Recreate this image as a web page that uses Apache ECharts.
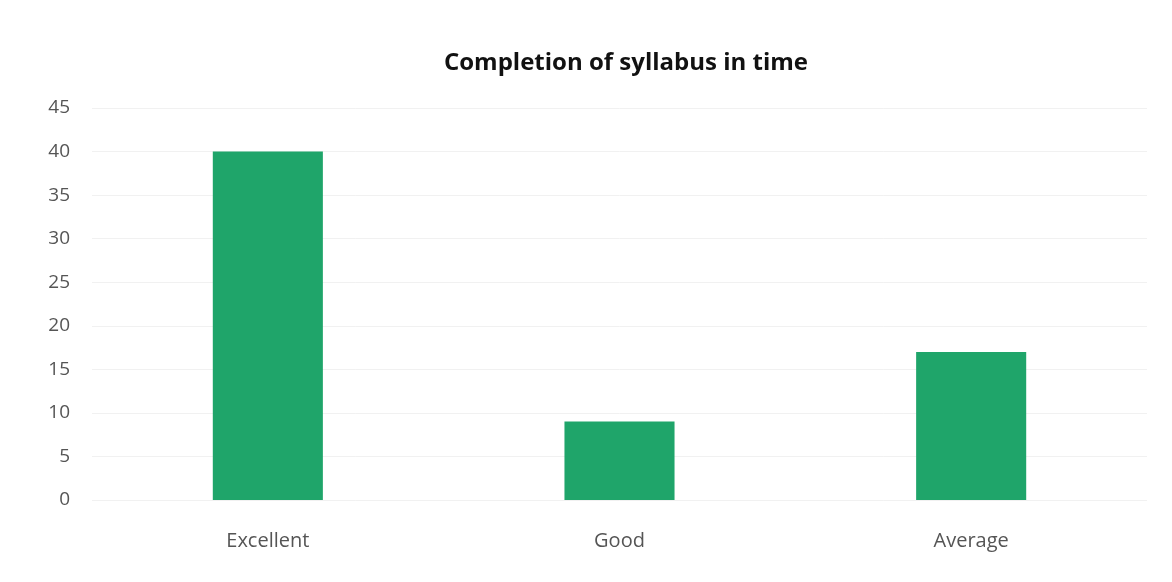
<!DOCTYPE html>
<html><head><meta charset="utf-8">
<script src="https://cdn.jsdelivr.net/npm/echarts@6/dist/echarts.min.js"></script>
<style>html,body{margin:0;padding:0;background:#fff}#c{width:1172px;height:582px}</style>
</head><body><div id="c"></div>
<script>
const categories = ["Excellent", "Good", "Average"];
const values = [40, 9, 17];
const yTicks = { min: 0, max: 45, interval: 5 };

const chart = echarts.init(document.getElementById('c'), null, {renderer: 'canvas'});
chart.setOption({
  backgroundColor: '#ffffff',
  animation: false,
  title: {
    text: 'Completion of syllabus in time',
    left: 621, top: 46, textAlign: 'center',
    textStyle: { fontFamily: 'Open Sans', fontWeight: 'bold', fontSize: 24, color: '#111' }
  },
  grid: { left: 92, right: 25, top: 108, bottom: 82, containLabel: false },
  xAxis: {
    type: 'category', data: categories,
    axisLine: { show: false }, axisTick: { show: false },
    axisLabel: { fontFamily: 'Open Sans', fontSize: 20, color: '#555', margin: 31 }
  },
  yAxis: {
    type: 'value', min: yTicks.min, max: yTicks.max, interval: yTicks.interval,
    axisLine: { show: false }, axisTick: { show: false },
    axisLabel: { fontFamily: 'Open Sans', fontSize: 19, color: '#555', margin: 22 },
    splitLine: { lineStyle: { color: '#f1f1f1', width: 1 } }
  },
  series: [{
    type: 'bar', data: values, barWidth: '31.3%',
    itemStyle: { color: '#1fa56a' }
  }]
});
</script></body></html>
